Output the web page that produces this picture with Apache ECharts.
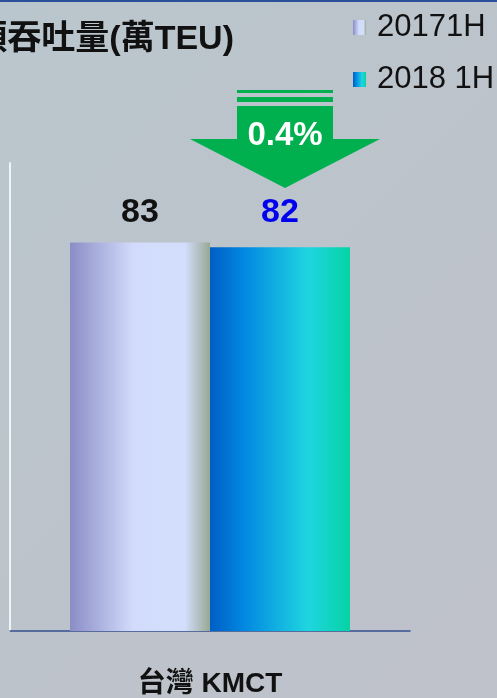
<!DOCTYPE html>
<html>
<head>
<meta charset="utf-8">
<script src="https://cdn.jsdelivr.net/npm/echarts@6/dist/echarts.min.js"></script>
<style>
  html, body { margin: 0; padding: 0; }
  #chart {
    width: 497px; height: 698px;
    box-sizing: border-box;
    border-top: 2px solid #2c4f9c;
    background: linear-gradient(135deg, #bac6cd 0%, #bcc3cb 50%, #bfc1cb 100%);
  }
</style>
</head>
<body>
<div id="chart"></div>
<script>
// chart data
const categories = ['台灣 KMCT'];
const seriesNames = ['20171H', '2018 1H'];
const values2017 = [83];
const values2018 = [82];
const changeText = '0.4%';
const titleText = '碼頭吞吐量(萬TEU)';

const FONT = '"Liberation Sans", Arial, "Noto Sans CJK TC", sans-serif';

const grad2017 = new echarts.graphic.LinearGradient(0, 0, 1, 0, [
  { offset: 0, color: '#8a8dc6' },
  { offset: 0.45, color: '#d2dbfb' },
  { offset: 0.82, color: '#d3defc' },
  { offset: 1, color: '#97a893' }
]);
const grad2018 = new echarts.graphic.LinearGradient(0, 0, 1, 0, [
  { offset: 0, color: '#005ec4' },
  { offset: 0.25, color: '#0289e2' },
  { offset: 0.7, color: '#1fd5e0' },
  { offset: 1, color: '#05d3a4' }
]);

const chart = echarts.init(document.getElementById('chart'), null, { renderer: 'canvas' });

const green = '#00b04f';

const option = {
  backgroundColor: 'transparent',
  animation: false,
  title: {
    text: titleText,
    right: 258,
    top: 16,
    textStyle: { fontFamily: FONT, fontSize: 34, fontWeight: 'bold', color: '#111' }
  },
  legend: {
    orient: 'vertical',
    left: 348,
    top: 5,
    itemWidth: 13,
    itemHeight: 15,
    itemGap: 21,
    icon: 'rect',
    textStyle: { fontFamily: FONT, fontSize: 31, color: '#111', padding: [0, 0, 0, 6] },
    data: seriesNames
  },
  grid: { left: 10, right: 87, top: 161, bottom: 67, containLabel: false },
  xAxis: {
    type: 'category',
    data: categories,
    axisLine: { lineStyle: { color: '#34508e', width: 1.5 } },
    axisTick: { show: false },
    axisLabel: {
      margin: 39,
      fontFamily: FONT, fontSize: 28, fontWeight: 'bold', color: '#111'
    }
  },
  yAxis: {
    type: 'value',
    min: 0,
    max: 100,
    axisLine: { show: true, lineStyle: { color: '#eef5f8', width: 2 } },
    axisTick: { show: false },
    axisLabel: { show: false },
    splitLine: { show: false }
  },
  series: [
    {
      name: seriesNames[0],
      type: 'bar',
      data: values2017,
      barWidth: 140,
      barGap: '0%',
      itemStyle: { color: grad2017 },
      label: {
        show: true, position: 'top', distance: 13,
        fontFamily: FONT, fontSize: 34, fontWeight: 'bold', color: '#111'
      }
    },
    {
      name: seriesNames[1],
      type: 'bar',
      data: values2018,
      barWidth: 140,
      barGap: '0%',
      itemStyle: { color: grad2018 },
      label: {
        show: true, position: 'top', distance: 18,
        fontFamily: FONT, fontSize: 34, fontWeight: 'bold', color: '#0000ee'
      }
    }
  ],
  graphic: [
    { type: 'rect', shape: { x: 237, y: 88, width: 96, height: 3 }, style: { fill: green } },
    { type: 'rect', shape: { x: 237, y: 95, width: 96, height: 5 }, style: { fill: green } },
    {
      type: 'polygon',
      shape: { points: [[237, 104], [333, 104], [333, 137], [380, 137], [285, 186], [190, 137], [237, 137]] },
      style: { fill: green }
    },
    {
      type: 'text',
      x: 285, y: 134,
      style: {
        text: changeText, fill: '#fff', align: 'center', verticalAlign: 'middle',
        font: 'bold 33px ' + FONT
      }
    }
  ]
};

chart.setOption(option);
</script>
</body>
</html>
